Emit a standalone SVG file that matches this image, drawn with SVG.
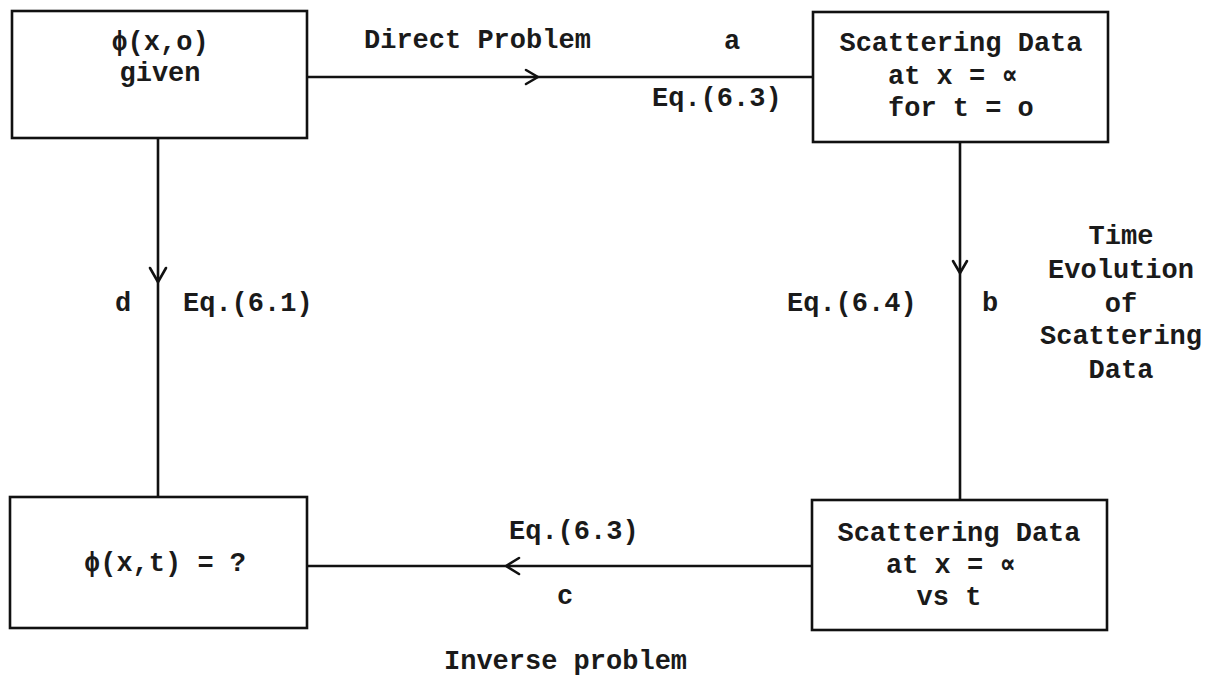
<svg xmlns="http://www.w3.org/2000/svg" width="1225" height="677" viewBox="0 0 1225 677">
  <style>
    .box { fill: none; stroke: #111; stroke-width: 2.6; }
    .wire { fill: none; stroke: #111; stroke-width: 2.6; }
    .head { fill: none; stroke: #111; stroke-width: 2.6; stroke-linecap: round; stroke-linejoin: round; }
    text { font-family: "Liberation Mono", "Courier New", "DejaVu Sans Mono", monospace; font-size: 27px; font-weight: bold; fill: #1a1a1a; }
    .mid { text-anchor: middle; }
  </style>
  <rect width="1225" height="677" fill="#ffffff"/>

  <!-- connectors -->
  <g id="connectors">
    <!-- a: direct problem -->
    <line class="wire" x1="307" y1="77" x2="813" y2="77"/>
    <polyline class="head" points="526,70 538,77 526,84"/>
    <!-- b: time evolution -->
    <line class="wire" x1="960" y1="142" x2="960" y2="500"/>
    <polyline class="head" points="953,261 960,273 967,261"/>
    <!-- c: inverse problem -->
    <line class="wire" x1="307" y1="566" x2="812" y2="566"/>
    <polyline class="head" points="519,558 506,566 519,574"/>
    <!-- d -->
    <line class="wire" x1="158" y1="138" x2="158" y2="497"/>
    <polyline class="head" points="150,268 158,282 166,268"/>
  </g>

  <g id="node-initial">
    <rect class="box" x="12" y="11" width="295" height="127"/>
    <text class="mid" x="160" y="50">ϕ(x,o)</text>
    <text class="mid" x="160" y="81">given</text>
  </g>

  <g id="node-scatter-t0">
    <rect class="box" x="813" y="12" width="295" height="130"/>
    <text class="mid" x="961" y="51">Scattering Data</text>
    <text x="888" y="84">at x = ∝</text>
    <text x="888" y="116">for t = o</text>
  </g>

  <g id="node-scatter-t">
    <rect class="box" x="812" y="500" width="295" height="130"/>
    <text class="mid" x="959" y="541">Scattering Data</text>
    <text x="886" y="573">at x = ∝</text>
    <text class="mid" x="949" y="605">vs t</text>
  </g>

  <g id="node-result">
    <rect class="box" x="10" y="497" width="297" height="131"/>
    <text class="mid" x="165" y="571">ϕ(x,t) = ?</text>
  </g>

  <!-- edge labels -->
  <g id="labels">
    <text x="364" y="48">Direct Problem</text>
    <text class="mid" x="732" y="49">a</text>
    <text x="652" y="106">Eq.(6.3)</text>

    <text class="mid" x="1121" y="244">Time</text>
    <text class="mid" x="1121" y="278">Evolution</text>
    <text class="mid" x="1121" y="312">of</text>
    <text class="mid" x="1121" y="344">Scattering</text>
    <text class="mid" x="1121" y="378">Data</text>

    <text x="787" y="311">Eq.(6.4)</text>
    <text class="mid" x="990" y="311">b</text>

    <text class="mid" x="123" y="311">d</text>
    <text x="183" y="311">Eq.(6.1)</text>

    <text x="509" y="539">Eq.(6.3)</text>
    <text class="mid" x="565" y="604">c</text>
    <text x="444" y="669">Inverse problem</text>
  </g>
</svg>
